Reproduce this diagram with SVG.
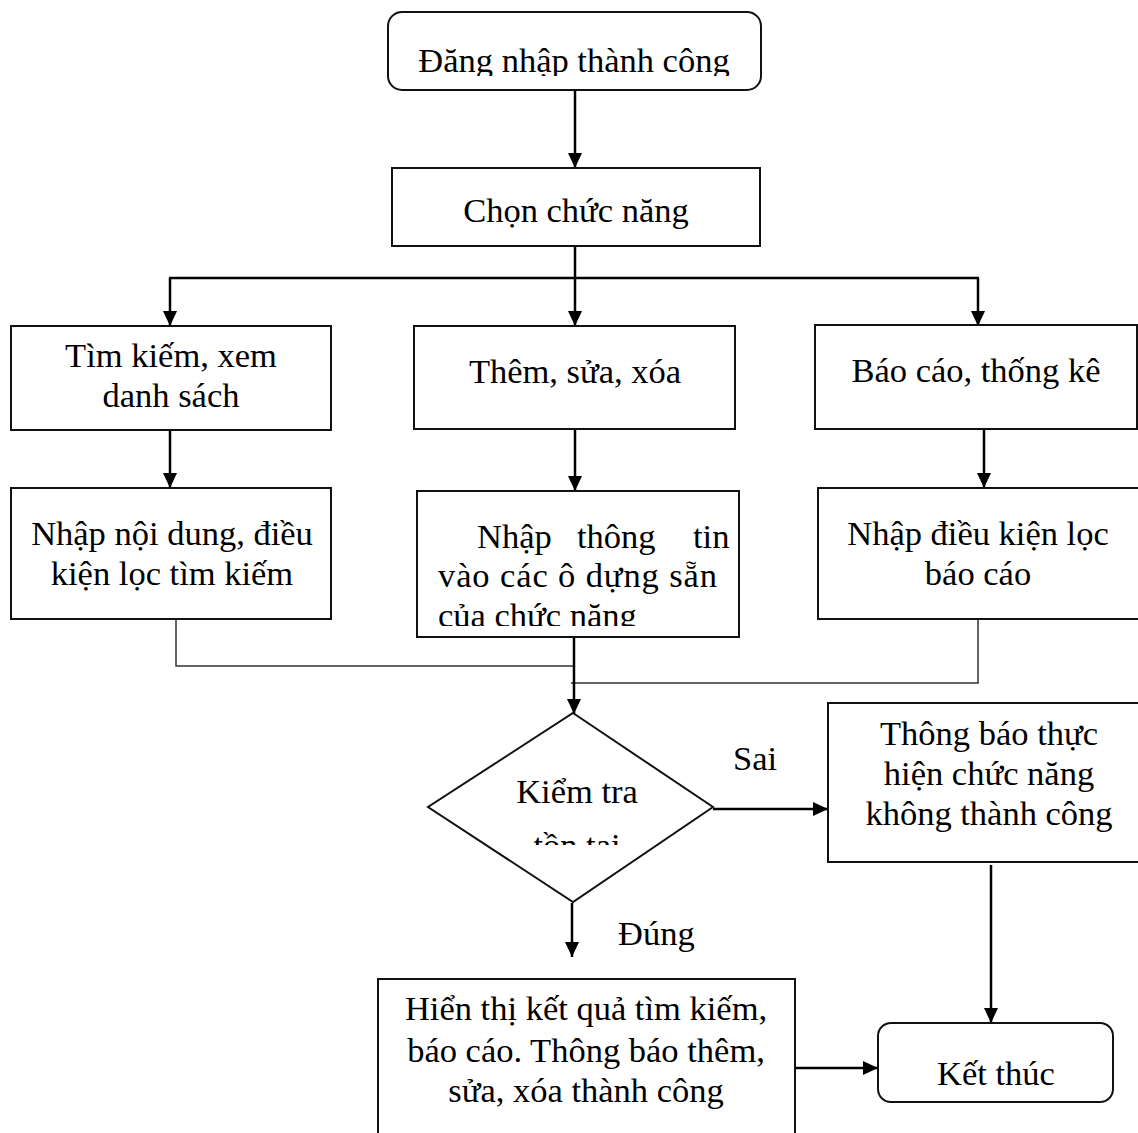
<svg xmlns="http://www.w3.org/2000/svg" width="1138" height="1133" viewBox="0 0 1138 1133">
<style>
  .box{fill:#fff;stroke:#111;stroke-width:2}
  .t{font-family:"Liberation Serif","Times New Roman",serif;font-size:34.5px;fill:#000}
  .c{text-anchor:middle}
  .arr{stroke:#000;stroke-width:2.5;fill:none;marker-end:url(#ah)}
  .ln{stroke:#000;stroke-width:2.5;fill:none}
  .thin{stroke:#333;stroke-width:1.5;fill:none}
</style>
<defs>
  <marker id="ah" markerUnits="userSpaceOnUse" markerWidth="16" markerHeight="16" viewBox="0 0 16 16" refX="15" refY="8" orient="auto">
    <path d="M0,1 L15,8 L0,15 Z" fill="#000"/>
  </marker>
  <clipPath id="clipTop"><rect x="388" y="12" width="373" height="64"/></clipPath>
  <clipPath id="clipMid"><rect x="417" y="491" width="322" height="135"/></clipPath>
  <clipPath id="clipDia"><rect x="428" y="713" width="285" height="132"/></clipPath>
</defs>

<g id="connectors">
  <line class="arr" x1="575" y1="90" x2="575" y2="168"/>
  <line class="ln" x1="575" y1="246" x2="575" y2="278"/>
  <line class="ln" x1="169" y1="278" x2="979" y2="278"/>
  <line class="arr" x1="170" y1="278" x2="170" y2="326"/>
  <line class="arr" x1="575" y1="278" x2="575" y2="326"/>
  <line class="arr" x1="978" y1="278" x2="978" y2="326"/>
  <line class="arr" x1="170" y1="430" x2="170" y2="488"/>
  <line class="arr" x1="575" y1="430" x2="575" y2="491"/>
  <line class="arr" x1="984" y1="429" x2="984" y2="488"/>
  <polyline class="thin" points="176,619 176,666 574,666"/>
  <polyline class="thin" points="978,616 978,683 571,683"/>
  <line class="arr" x1="574" y1="637" x2="574" y2="714"/>
  <line class="arr" x1="713" y1="809" x2="828" y2="809"/>
  <line class="arr" x1="572" y1="903" x2="572" y2="957"/>
  <line class="arr" x1="991" y1="865" x2="991" y2="1023"/>
  <line class="arr" x1="795" y1="1068" x2="878" y2="1068"/>
</g>

<g id="login">
  <rect class="box" x="388" y="12" width="373" height="78" rx="14"/>
  <text class="t c" x="574" y="72" clip-path="url(#clipTop)">Đăng nhập thành công</text>
</g>

<g id="choose">
  <rect class="box" x="392" y="168" width="368" height="78"/>
  <text class="t c" x="576" y="222">Chọn chức năng</text>
</g>

<g id="search">
  <rect class="box" x="11" y="326" width="320" height="104"/>
  <text class="t c" x="171" y="367">Tìm kiếm, xem</text>
  <text class="t c" x="171" y="407">danh sách</text>
</g>

<g id="edit">
  <rect class="box" x="414" y="326" width="321" height="103"/>
  <text class="t c" x="575" y="383">Thêm, sửa, xóa</text>
</g>

<g id="report">
  <rect class="box" x="815" y="325" width="322" height="104"/>
  <text class="t c" x="976" y="382">Báo cáo, thống kê</text>
</g>

<g id="search-input">
  <rect class="box" x="11" y="488" width="320" height="131"/>
  <text class="t c" x="172" y="545">Nhập nội dung, điều</text>
  <text class="t c" x="172" y="585">kiện lọc tìm kiếm</text>
</g>

<g id="edit-input">
  <rect class="box" x="417" y="491" width="322" height="146"/>
  <g clip-path="url(#clipMid)">
    <text class="t" x="477" y="548">Nhập</text>
    <text class="t" x="577" y="548">thông</text>
    <text class="t" x="693" y="548">tin</text>
    <text class="t" x="438" y="587" textLength="279" lengthAdjust="spacing">vào các ô dựng sẵn</text>
    <text class="t" x="438" y="627">của chức năng</text>
  </g>
</g>

<g id="report-input">
  <rect class="box" x="818" y="488" width="330" height="131"/>
  <text class="t c" x="978" y="545">Nhập điều kiện lọc</text>
  <text class="t c" x="978" y="585">báo cáo</text>
</g>

<g id="check">
  <polygon class="box" points="573,713 713,807 573,902 428,807"/>
  <text class="t c" x="577" y="803">Kiểm tra</text>
  <text class="t c" x="577" y="857" clip-path="url(#clipDia)">tồn tại</text>
</g>

<text class="t" x="733" y="770">Sai</text>
<text class="t" x="618" y="945">Đúng</text>

<g id="fail">
  <rect class="box" x="828" y="703" width="320" height="159"/>
  <text class="t c" x="989" y="745">Thông báo thực</text>
  <text class="t c" x="989" y="785">hiện chức năng</text>
  <text class="t c" x="989" y="825">không thành công</text>
</g>

<g id="success">
  <rect class="box" x="378" y="979" width="417" height="170"/>
  <text class="t c" x="586" y="1020">Hiển thị kết quả tìm kiếm,</text>
  <text class="t c" x="586" y="1062">báo cáo. Thông báo thêm,</text>
  <text class="t c" x="586" y="1102">sửa, xóa thành công</text>
</g>

<g id="end">
  <rect class="box" x="878" y="1023" width="235" height="79" rx="13"/>
  <text class="t c" x="996" y="1085">Kết thúc</text>
</g>
</svg>
